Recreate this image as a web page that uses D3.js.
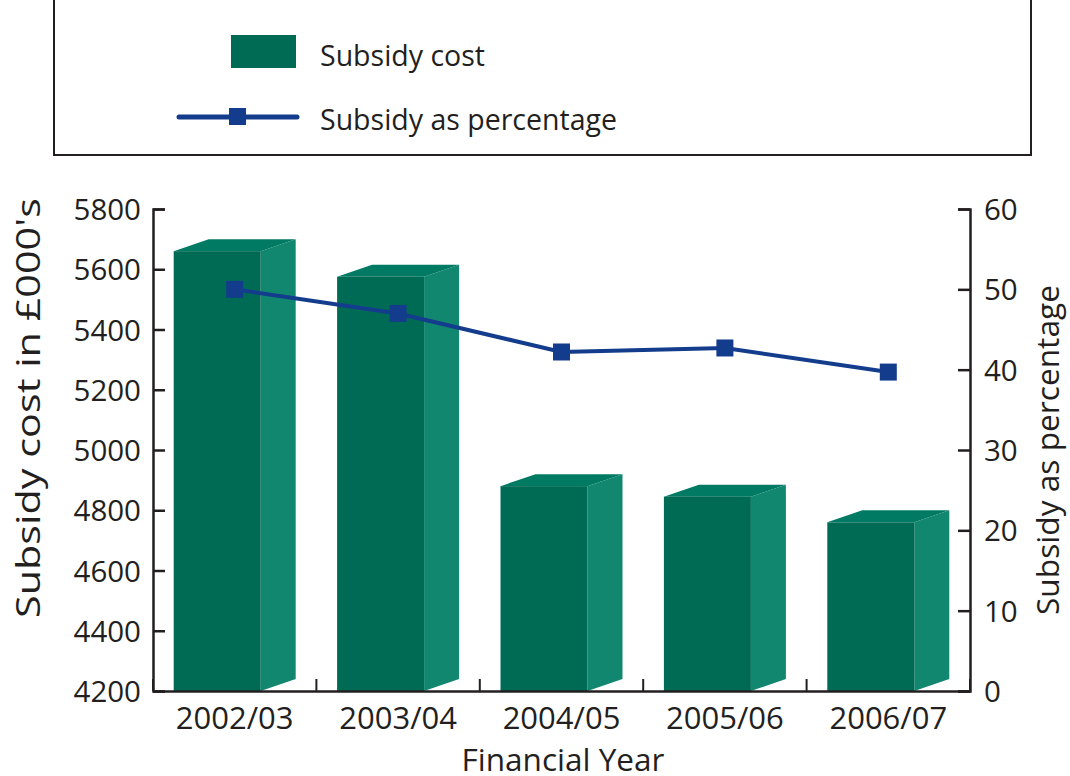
<!doctype html>
<html lang="en">
<head>
<meta charset="utf-8">
<title>Subsidy cost</title>
<script src="https://d3js.org/d3.v7.min.js"></script>
<style>
  body { margin:0; background:#fff; }
  text { font-family:"Open Sans", sans-serif; fill:#231f20; }
</style>
</head>
<body>
<div id="chart"></div>
<script>
// data
var years = ["2002/03", "2003/04", "2004/05", "2005/06", "2006/07"];
var cost = [5660, 5575, 4880, 4845, 4760];
var percent = [50, 47, 42.2, 42.7, 39.7];
var costTicks = [4200, 4400, 4600, 4800, 5000, 5200, 5400, 5600, 5800];
var pctTicks = [0, 10, 20, 30, 40, 50, 60];

var width = 1070, height = 776;
var plotL = 153, plotR = 970, plotT = 209, plotB = 691;
var depthX = 35, depthY = 12, frontW = 87;

var svg = d3.select("#chart").append("svg")
  .attr("width", width).attr("height", height);

var x = d3.scaleBand().domain(years).range([plotL, plotR]);
var yCost = d3.scaleLinear().domain([4200, 5800]).range([plotB, plotT]);
var yPct = d3.scaleLinear().domain([0, 60]).range([plotB, plotT]);

// legend box
svg.append("rect").attr("x", 54).attr("y", -2).attr("width", 977).attr("height", 157)
  .attr("fill", "none").attr("stroke", "#231f20").attr("stroke-width", 2);
svg.append("rect").attr("x", 231).attr("y", 35).attr("width", 65).attr("height", 33)
  .attr("fill", "#006b54");
svg.append("text").attr("x", 320).attr("y", 66).attr("font-size", 28.5).text("Subsidy cost");
svg.append("line").attr("x1", 179).attr("x2", 297).attr("y1", 117).attr("y2", 117)
  .attr("stroke", "#143c8c").attr("stroke-width", 5).attr("stroke-linecap", "round");
svg.append("rect").attr("x", 229).attr("y", 108).attr("width", 17).attr("height", 17)
  .attr("fill", "#143c8c");
svg.append("text").attr("x", 320).attr("y", 130).attr("font-size", 28.5).text("Subsidy as percentage");

// 3d bars
var bars = svg.append("g").selectAll("g").data(years).enter().append("g");
function fx(d) { return x(d) + x.bandwidth() / 2 - (frontW + depthX) / 2; }

bars.append("path").attr("fill", "#12876f").attr("d", function(d, i) {
  var x0 = fx(d) + frontW, y0 = yCost(cost[i]);
  return "M" + x0 + "," + y0 + "L" + (x0 + depthX) + "," + (y0 - depthY) +
    "L" + (x0 + depthX) + "," + (plotB - depthY) + "L" + x0 + "," + plotB + "Z";
});
bars.append("path").attr("fill", "#007a62").attr("d", function(d, i) {
  var x0 = fx(d), y0 = yCost(cost[i]);
  return "M" + x0 + "," + y0 + "L" + (x0 + depthX) + "," + (y0 - depthY) +
    "L" + (x0 + frontW + depthX) + "," + (y0 - depthY) + "L" + (x0 + frontW) + "," + y0 + "Z";
});
bars.append("rect").attr("fill", "#006b54")
  .attr("x", function(d) { return fx(d); })
  .attr("y", function(d, i) { return yCost(cost[i]); })
  .attr("width", frontW)
  .attr("height", function(d, i) { return plotB - yCost(cost[i]); });

// axes
var axLeft = svg.append("g").attr("transform", "translate(" + plotL + ",0)")
  .call(d3.axisRight(yCost).tickValues(costTicks).tickSize(12).tickFormat(d3.format("d")));

var axRight = svg.append("g").attr("transform", "translate(" + plotR + ",0)")
  .call(d3.axisLeft(yPct).tickValues(pctTicks).tickSize(12));

var axBottom = svg.append("g").attr("transform", "translate(0," + plotB + ")")
  .call(d3.axisTop(x).tickSize(0));
// boundary ticks between categories
axBottom.selectAll(".bound").data(d3.range(years.length + 1)).enter().append("line")
  .attr("class", "bound")
  .attr("x1", function(i) { return plotL + i * x.step(); })
  .attr("x2", function(i) { return plotL + i * x.step(); })
  .attr("y1", 0).attr("y2", -12)
  .attr("stroke", "#231f20").attr("stroke-width", 2);

svg.selectAll(".domain").attr("stroke", "#231f20").attr("stroke-width", 2.5);
svg.selectAll(".tick line").attr("stroke", "#231f20").attr("stroke-width", 2.5);
svg.selectAll(".tick text").attr("font-family", "Open Sans").attr("fill", "#231f20");

axLeft.selectAll("text").attr("x", -12).attr("text-anchor", "end")
  .attr("dy", "0.36em").attr("font-size", 29.5);
axRight.selectAll("text").attr("x", 14).attr("text-anchor", "start")
  .attr("dy", "0.36em").attr("font-size", 29.5);
axBottom.selectAll(".tick text").attr("y", 38).attr("dy", 0).attr("font-size", 31);

// percentage line
var pts = years.map(function(d, i) { return [x(d) + x.bandwidth() / 2, yPct(percent[i])]; });
svg.append("path").datum(pts).attr("d", d3.line())
  .attr("fill", "none").attr("stroke", "#143c8c").attr("stroke-width", 4);
svg.selectAll(".mark").data(pts).enter().append("rect")
  .attr("class", "mark")
  .attr("x", function(p) { return p[0] - 8.5; })
  .attr("y", function(p) { return p[1] - 8.5; })
  .attr("width", 17).attr("height", 17).attr("fill", "#143c8c");

// titles
svg.append("text").attr("x", 563).attr("y", 771).attr("text-anchor", "middle")
  .attr("font-size", 31).attr("textLength", 203).attr("lengthAdjust", "spacingAndGlyphs")
  .text("Financial Year");
svg.append("text").attr("transform", "translate(40,408) rotate(-90)")
  .attr("text-anchor", "middle").attr("font-size", 32)
  .attr("textLength", 420).attr("lengthAdjust", "spacingAndGlyphs")
  .text("Subsidy cost in £000's");
svg.append("text").attr("transform", "translate(1059,450) rotate(-90)")
  .attr("text-anchor", "middle").attr("font-size", 31)
  .attr("textLength", 330).attr("lengthAdjust", "spacingAndGlyphs")
  .text("Subsidy as percentage");
</script>
</body>
</html>
